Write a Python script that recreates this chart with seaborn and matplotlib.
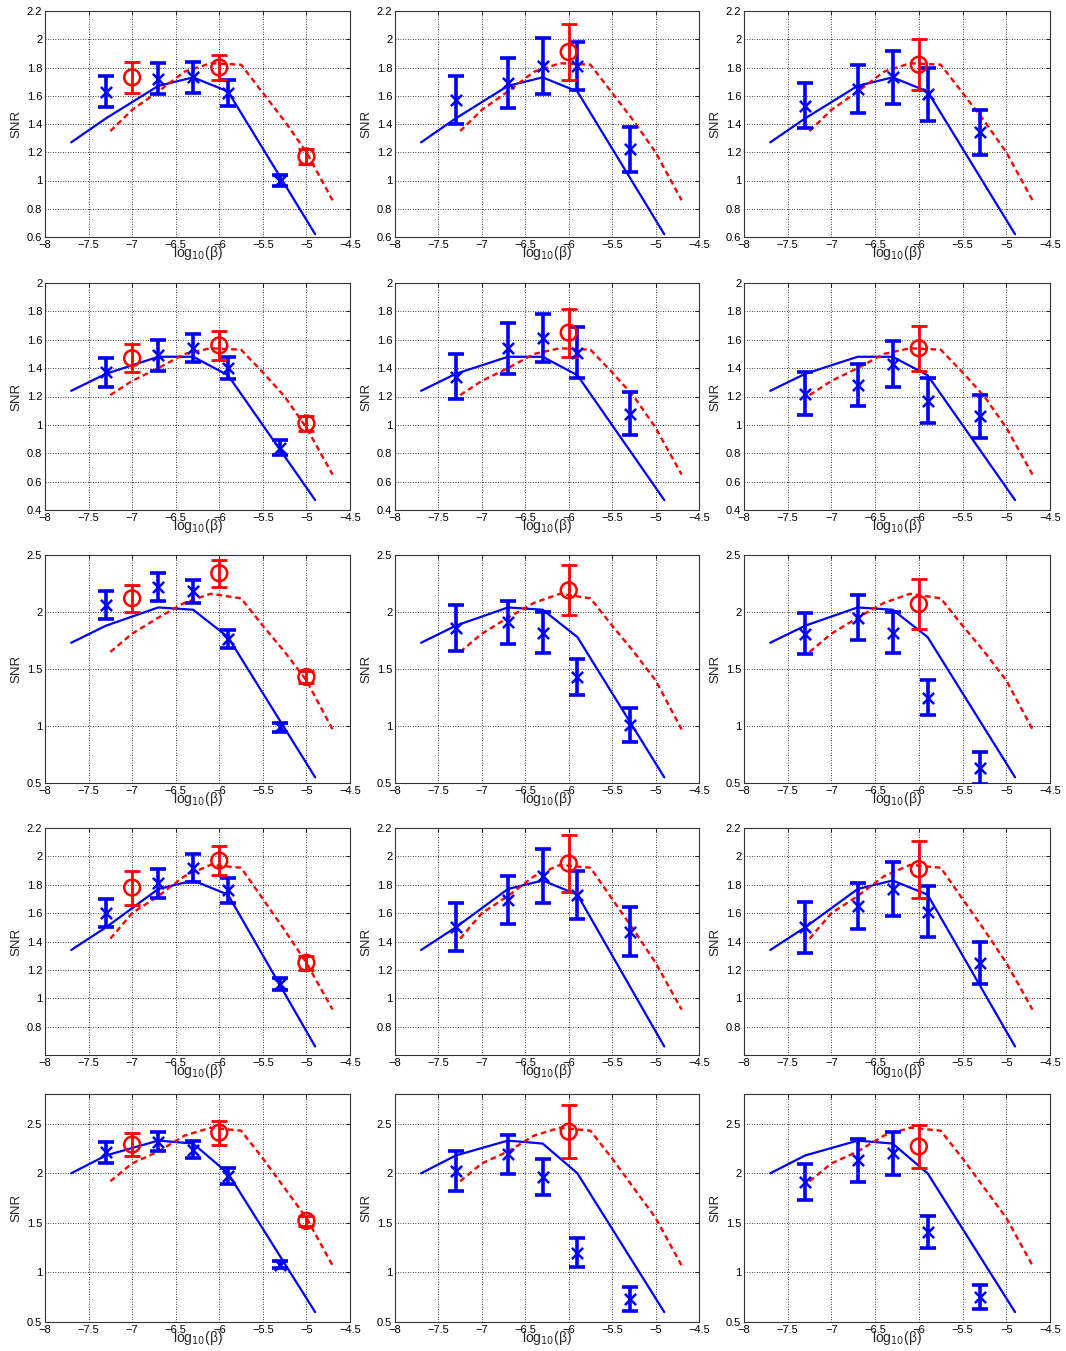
import numpy as np
import pandas as pd
import matplotlib
matplotlib.use("Agg")
import matplotlib.pyplot as plt
import seaborn as sns
from matplotlib.ticker import FuncFormatter

sns.set_theme(style="white")
plt.rcParams["font.family"] = ["Liberation Sans", "DejaVu Sans"]

# ---- theory curves (same in every column of a row) ----
beta_theory_blue = [-7.7, -7.3, -6.7, -6.3, -5.9, -4.9]
snr_theory_blue = [
    [1.27, 1.44, 1.67, 1.73, 1.63, 0.62],
    [1.24, 1.36, 1.48, 1.48, 1.35, 0.47],
    [1.73, 1.88, 2.04, 2.02, 1.78, 0.55],
    [1.34, 1.50, 1.77, 1.83, 1.73, 0.66],
    [2.00, 2.18, 2.33, 2.30, 2.00, 0.60],
]
beta_theory_red = [-7.25, -7.0, -6.7, -6.4, -6.1, -5.75, -5.5, -5.25, -5.0, -4.7]
snr_theory_red = [
    [1.35, 1.50, 1.63, 1.77, 1.83, 1.82, 1.62, 1.42, 1.20, 0.86],
    [1.21, 1.31, 1.40, 1.50, 1.54, 1.53, 1.37, 1.20, 0.98, 0.65],
    [1.65, 1.81, 1.95, 2.08, 2.16, 2.12, 1.88, 1.65, 1.40, 0.97],
    [1.42, 1.60, 1.72, 1.86, 1.94, 1.92, 1.70, 1.48, 1.25, 0.92],
    [1.92, 2.10, 2.22, 2.38, 2.46, 2.43, 2.15, 1.85, 1.55, 1.07],
]

# ---- measured points ----
beta_blue_pts = [-7.3, -6.7, -6.3, -5.9, -5.3]
snr_blue_pts = [
    [[1.63, 1.72, 1.73, 1.62, 1.00], [1.57, 1.69, 1.81, 1.81, 1.22], [1.53, 1.65, 1.73, 1.61, 1.34]],
    [[1.37, 1.49, 1.54, 1.40, 0.84], [1.34, 1.54, 1.61, 1.51, 1.08], [1.22, 1.28, 1.43, 1.17, 1.06]],
    [[2.06, 2.22, 2.18, 1.76, 0.99], [1.86, 1.91, 1.82, 1.43, 1.01], [1.81, 1.95, 1.82, 1.25, 0.63]],
    [[1.60, 1.81, 1.92, 1.76, 1.10], [1.50, 1.69, 1.86, 1.73, 1.47], [1.50, 1.65, 1.77, 1.61, 1.25]],
    [[2.21, 2.32, 2.24, 1.97, 1.08], [2.02, 2.19, 1.96, 1.20, 0.73], [1.91, 2.13, 2.20, 1.41, 0.75]],
]
err_blue_pts = [
    [[0.11, 0.11, 0.11, 0.09, 0.04], [0.17, 0.18, 0.20, 0.17, 0.16], [0.16, 0.17, 0.19, 0.19, 0.16]],
    [[0.10, 0.11, 0.10, 0.08, 0.05], [0.16, 0.18, 0.17, 0.18, 0.15], [0.15, 0.15, 0.16, 0.16, 0.15]],
    [[0.12, 0.12, 0.10, 0.08, 0.04], [0.20, 0.19, 0.18, 0.16, 0.15], [0.18, 0.20, 0.18, 0.15, 0.14]],
    [[0.10, 0.10, 0.10, 0.09, 0.04], [0.17, 0.17, 0.19, 0.17, 0.17], [0.18, 0.16, 0.19, 0.18, 0.15]],
    [[0.11, 0.10, 0.09, 0.08, 0.04], [0.20, 0.20, 0.18, 0.15, 0.12], [0.18, 0.22, 0.22, 0.16, 0.12]],
]
beta_red_pts = [[-7.0, -6.0, -5.0], [-6.0], [-6.0]]
snr_red_pts = [
    [[1.73, 1.80, 1.17], [1.91], [1.82]],
    [[1.47, 1.56, 1.01], [1.65], [1.54]],
    [[2.12, 2.34, 1.43], [2.19], [2.07]],
    [[1.78, 1.97, 1.25], [1.95], [1.91]],
    [[2.29, 2.41, 1.52], [2.42], [2.27]],
]
err_red_pts = [
    [[0.11, 0.09, 0.05], [0.20], [0.18]],
    [[0.10, 0.10, 0.05], [0.17], [0.16]],
    [[0.12, 0.12, 0.05], [0.22], [0.22]],
    [[0.12, 0.10, 0.05], [0.20], [0.20]],
    [[0.12, 0.12, 0.05], [0.27], [0.22]],
]

# ---- axis ranges per row ----
row_ylim = [(0.6, 2.2), (0.4, 2.0), (0.5, 2.5), (0.6, 2.2), (0.5, 2.8)]
row_yticks = [
    [0.6, 0.8, 1.0, 1.2, 1.4, 1.6, 1.8, 2.0, 2.2],
    [0.4, 0.6, 0.8, 1.0, 1.2, 1.4, 1.6, 1.8, 2.0],
    [0.5, 1.0, 1.5, 2.0, 2.5],
    [0.8, 1.0, 1.2, 1.4, 1.6, 1.8, 2.0, 2.2],
    [0.5, 1.0, 1.5, 2.0, 2.5],
]
xticks = [-8, -7.5, -7, -6.5, -6, -5.5, -5, -4.5]

W, H = 1066, 1351
fig = plt.figure(figsize=(W / 100, H / 100), dpi=100)
fig.patch.set_facecolor("white")

col_x = [(45, 350), (395, 699), (744, 1050)]
row_y = [(11, 237), (283, 510), (555, 783), (828, 1055), (1094, 1322)]

fmt = FuncFormatter(lambda v, p: ("%g" % v).replace("-", "\u2212"))

for r in range(5):
    for c in range(3):
        x0, x1 = col_x[c]
        y0, y1 = row_y[r]
        ax = fig.add_axes([x0 / W, 1 - y1 / H, (x1 - x0) / W, (y1 - y0) / H])
        ax.set_facecolor("white")

        df_b = pd.DataFrame({"beta": beta_theory_blue, "snr": snr_theory_blue[r]})
        df_r = pd.DataFrame({"beta": beta_theory_red, "snr": snr_theory_red[r]})
        sns.lineplot(data=df_b, x="beta", y="snr", ax=ax, color="#0000ff",
                     lw=1.6, estimator=None, sort=False, zorder=3)
        sns.lineplot(data=df_r, x="beta", y="snr", ax=ax, color="#ff0000",
                     lw=1.7, estimator=None, sort=False, zorder=3)
        ax.lines[-1].set_linestyle((0, (2.4, 1.6)))

        # measured blue points with error bars
        ax.errorbar(beta_blue_pts, snr_blue_pts[r][c], yerr=err_blue_pts[r][c],
                    fmt="none", ecolor="#0000ff", elinewidth=2.6,
                    capsize=5.5, capthick=2.6, zorder=4)
        df_pb = pd.DataFrame({"beta": beta_blue_pts, "snr": snr_blue_pts[r][c]})
        sns.scatterplot(data=df_pb, x="beta", y="snr", ax=ax, marker="x",
                        color="#0000ff", s=65, linewidth=1.8, zorder=5)

        # measured red points with error bars
        ax.errorbar(beta_red_pts[c], snr_red_pts[r][c], yerr=err_red_pts[r][c],
                    fmt="none", ecolor="#ff0000", elinewidth=2.0,
                    capsize=5.5, capthick=2.0, zorder=4)
        df_pr = pd.DataFrame({"beta": beta_red_pts[c], "snr": snr_red_pts[r][c]})
        sns.scatterplot(data=df_pr, x="beta", y="snr", ax=ax, marker="o",
                        facecolor="none", edgecolor="#ff0000", s=130,
                        linewidth=1.8, zorder=5)

        ax.set_xlim(-8, -4.5)
        ax.set_ylim(*row_ylim[r])
        ax.set_xticks(xticks)
        ax.set_yticks(row_yticks[r])
        ax.xaxis.set_major_formatter(fmt)
        ax.yaxis.set_major_formatter(fmt)
        ax.grid(True, color="black", linestyle=(0, (1, 2)), linewidth=0.6)
        ax.tick_params(direction="in", top=True, right=True, length=3,
                       width=0.6, labelsize=8, pad=2, colors="black")
        for s in ax.spines.values():
            s.set_color("#333333")
            s.set_linewidth(0.8)
        ax.set_ylabel("SNR", fontsize=9.5, labelpad=3)
        ax.set_xlabel(r"log$_{10}$(β)", fontsize=10, labelpad=-4)

fig.savefig("out.png", dpi=100, facecolor="white")
